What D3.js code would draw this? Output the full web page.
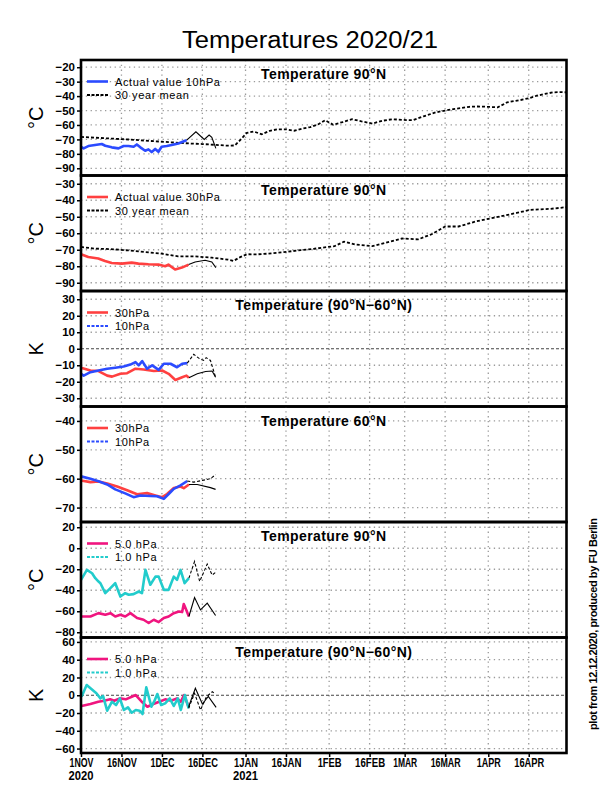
<!DOCTYPE html>
<html>
<head>
<meta charset="utf-8">
<script src="https://cdn.jsdelivr.net/npm/d3@7"></script>
<style>
  body { margin: 0; background: #fff; }
  text { font-family: "Liberation Sans", Arial, sans-serif; }
</style>
</head>
<body>
<svg id="chart" width="612" height="792"></svg>
<script>
// x values are days after 1 Nov 2020
var xTickDates = ["2020-11-01", "2020-11-16", "2020-12-01", "2020-12-16", "2021-01-01", "2021-01-16",
  "2021-02-01", "2021-02-16", "2021-03-01", "2021-03-16", "2021-04-01", "2021-04-16"];
var xTickLabels = ["1NOV", "16NOV", "1DEC", "16DEC", "1JAN", "16JAN", "1FEB", "16FEB", "1MAR", "16MAR", "1APR", "16APR"];

// panel 1: 90N 10hPa
var t10Actual = [[0,-75.1],[1,-76.2],[2.7,-74.6],[5.2,-73.9],[7.7,-73.2],[9,-74.4],[11.4,-75.5],[13.9,-76.2],
  [15.8,-74.6],[17.6,-74.6],[19.5,-75.1],[20.7,-73.5],[22,-75.5],[23.8,-77.9],[25,-76.9],[26.2,-78.8],[27.5,-76.6],
  [28.7,-78.6],[29.9,-75.1],[31.8,-74.6],[33.6,-73.9],[36.1,-72.8],[38.6,-70.9],[39.2,-70.5]];
var t10Forecast = [[39.2,-70.5],[42.6,-64.7],[45.7,-70],[47.5,-67],[48.5,-68.5],[50,-76.2]];
var t10Mean = [[0,-68.3],[5,-68.8],[10,-69.3],[15,-69.8],[20,-70.3],[25,-71],[30,-71.6],[35,-72.2],[40,-72.8],
  [45,-73.2],[50,-73.8],[54,-74.3],[57,-74.2],[59,-70.5],[61.5,-65.5],[64,-64.5],[67,-66.5],[70,-64],[73,-63],
  [76,-63],[79,-64],[82,-62.5],[85,-61.5],[88,-59.5],[90.5,-56.7],[93.5,-59.8],[97,-58],[100.5,-56],[104,-57.5],
  [108,-59],[112,-57],[115.5,-56],[119,-56.5],[123,-56.7],[127,-54],[131.5,-51.3],[135,-50],[138,-49],[141,-48.3],
  [144,-47.4],[147,-47.2],[150.5,-47.4],[154.5,-47.8],[158,-44.3],[163,-42.7],[166,-41.5],[169,-39.7],[172,-38.5],
  [175,-37.4],[178,-37.2],[180,-37.4]];

// panel 2: 90N 30hPa
var t30Actual = [[0,-72.7],[2.7,-74.4],[6.4,-75.3],[8.9,-76.8],[11.4,-78],[15.1,-78.4],[18.8,-77.8],[21.3,-78.4],
  [25,-78.8],[28.7,-79],[31.2,-80],[32.4,-79],[34.9,-82],[37.4,-80.8],[39.9,-79]];
var t30Forecast = [[39.9,-79],[42.3,-77.4],[46,-76.4],[48.5,-77.4],[50,-80.8]];
var t30Mean = [[0,-68.3],[5,-69.3],[11,-69.6],[17.5,-70.4],[24,-71.4],[30,-72.4],[36,-74],[42,-74],[48.5,-74.8],
  [54.5,-76],[56.5,-76.8],[59,-74.5],[61.5,-72.7],[65,-72.8],[69,-72.4],[75,-71.5],[81.5,-70.2],[86.5,-69.4],
  [94,-67.8],[97.5,-65.1],[101.5,-66.8],[108,-67.8],[113,-65.7],[119,-63.2],[125,-63.7],[130,-60.6],[135,-55.9],
  [140,-55.9],[146.5,-52.8],[154,-50.3],[161.5,-47.7],[166.5,-45.8],[174,-45.2],[180,-44.2]];

// panel 3: 90N-60N difference
var dT30 = [[0,-11.5],[3.5,-13.2],[6.5,-13.5],[9.7,-16.3],[11.5,-16.9],[14.6,-15.2],[17.1,-14.8],[20.2,-12.1],
  [23.2,-12.6],[27,-13.5],[30.1,-13.2],[32.5,-15.2],[35,-18.9],[37.5,-17.3],[39.1,-16.3],[40,-17.6]];
var dT30Forecast = [[40,-17.6],[43.1,-15.2],[46.2,-13.8],[48.6,-13.5],[49.9,-17.3]];
var dT10 = [[0,-15.2],[1,-16.3],[3.5,-14.2],[6.5,-13.2],[9.7,-12.1],[12.7,-11.5],[15.8,-10.8],[18.3,-9.6],
  [20.2,-8.1],[21.4,-10.1],[22.7,-7.5],[24.5,-12.1],[26.4,-10.1],[28.8,-12.8],[30.7,-9.1],[33.2,-9.1],[35.6,-11.2],
  [37.5,-9.1],[39.4,-8.7]];
var dT10Forecast = [[39.4,-8.7],[41.8,-3.4],[44,-6.1],[45.5,-7],[46.4,-5.4],[48,-7.1],[49.9,-17.3]];

// panel 4: 60N
var t60_30 = [[0,-60.6],[3.5,-61.2],[6.5,-61],[9.7,-61.7],[13.4,-62.7],[17.1,-64],[20.8,-65.4],[24.5,-65],
  [27.6,-65.8],[30.1,-66.4],[31.9,-65.3],[34.4,-63.2],[36.9,-62.7],[38.1,-63.3],[40,-62]];
var t60_30Forecast = [[40,-62],[43.1,-62],[48,-63.1],[49.9,-63.7]];
var t60_10 = [[0,-59.2],[3.5,-60],[6.5,-60.9],[9.7,-62],[12.7,-63.7],[16.4,-65.1],[19.5,-66.4],[22,-65.8],
  [25.7,-66],[28.2,-66.1],[30.7,-67],[32.5,-65.3],[34.4,-63.5],[36.9,-62.3],[39.4,-60.8]];
var t60_10Forecast = [[39.4,-60.8],[41.8,-61.2],[45.5,-60.5],[48,-60],[49.9,-58.6]];

// panel 5: 90N upper levels
var t5Actual = [[0,-65],[3.5,-65],[6.5,-61.8],[9,-63.3],[10.9,-61.8],[12.7,-65],[14.6,-63.3],[16.4,-65],
  [18.3,-61.8],[20.8,-66.5],[23.2,-68.1],[25.1,-71.2],[27,-68.1],[28.8,-70.3],[30.7,-66.5],[32.5,-65],[34.4,-61.8],
  [36.3,-60.2],[37.5,-60.8],[38.1,-53.2],[39,-58.6],[40,-65]];
var t5Forecast = [[40,-65],[42.1,-46.9],[44.3,-58.7],[46.8,-52.3],[49.9,-64]];
var t1Actual = [[0,-30.1],[2.2,-20.6],[4.1,-23.8],[5.3,-28.5],[6.5,-31.7],[7.2,-33.3],[9,-42.8],[10.9,-38],
  [12.7,-33.3],[14.6,-46],[16.4,-42.8],[17.7,-44.3],[19.5,-43.7],[21.4,-41.2],[22.6,-42.8],[23.9,-20.6],[25.7,-34.8],
  [27.6,-27],[28.8,-27],[30.7,-39.6],[32.5,-39.6],[34.4,-27],[35.6,-30.1],[36.9,-20.6],[38.4,-33.3],[40,-28.5]];
var t1Forecast = [[40,-28.5],[42.1,-12.6],[44,-31.6],[46.8,-15.1],[48.6,-25.5],[49.9,-23]];

// panel 6: 90N-60N upper levels
var dT5 = [[0.2,-12.1],[3.5,-9.9],[6.4,-7.3],[8.6,-6.2],[10.8,-4.6],[12.3,-6.2],[14.4,-3.5],[16.6,-4.6],
  [18.8,-1.7],[20.3,0.2],[22.5,-7.3],[24.6,-12.9],[26.8,-9.9],[29,-7.3],[31.2,-4.6],[33.4,-6.2],[35.6,-3.5],
  [37,-7.3],[38.2,0.2],[39.9,-12.9]];
var dT5Forecast = [[39.9,-12.9],[42.4,7.8],[45,-9.9],[47.2,-1.4],[50.1,-13.6]];
var dT1 = [[0.2,-1.7],[2.1,11.5],[5.7,2.2],[7.2,-3.5],[8.2,-0.9],[9.7,-17.4],[11.5,-7.3],[13,-11],[14.4,-3.5],
  [15.9,-16.6],[17.4,-13.6],[18.8,-19.7],[20.3,-16.6],[21.7,-17.4],[22.8,-21.1],[24.2,8.9],[26.1,-12.9],[27.1,-7.3],
  [28.3,1.4],[29.7,-11],[31.2,-9.1],[32.9,-3.5],[34.4,-12.1],[35.9,-3.5],[37,-16.6],[38.5,0.2],[39.9,-14.7]];
var dT1Forecast = [[39.9,-14.7],[42.1,2.2],[44.3,-16.6],[46.5,-1.7],[48.7,4],[49.8,1.4]];

var panelTitles = ["Temperature 90°N", "Temperature 90°N", "Temperature (90°N−60°N)", "Temperature 60°N",
  "Temperature 90°N", "Temperature (90°N−60°N)"];
var panelUnits = ["°C", "°C", "K", "°C", "°C", "K"];
var yDomains = [[-95,-15], [-95,-25], [-35,35], [-75,-35], [-85,25], [-65,65]];
var yTicks = [d3.range(-90,-19,10), d3.range(-90,-29,10), d3.range(-30,31,10), d3.range(-70,-39,10),
  d3.range(-80,21,20), d3.range(-60,61,20)];

var blue = "#2b4bff", red = "#ff4040", magenta = "#f0157f", cyan = "#22cccc";

var panels = [
  { legend: [["Actual value 10hPa", blue, false], ["30 year mean", "#000", true]],
    series: [[t10Mean, "dash"], [t10Actual, blue], [t10Forecast, "fc"]] },
  { legend: [["Actual value 30hPa", red, false], ["30 year mean", "#000", true]],
    series: [[t30Mean, "dash"], [t30Actual, red], [t30Forecast, "fc"]] },
  { legend: [["30hPa", red, false], ["10hPa", blue, true]], zero: true,
    series: [[dT30, red], [dT10, blue], [dT30Forecast, "fc"], [dT10Forecast, "fcdash"]] },
  { legend: [["30hPa", red, false], ["10hPa", blue, true]],
    series: [[t60_30, red], [t60_10, blue], [t60_30Forecast, "fc"], [t60_10Forecast, "fcdash"]] },
  { legend: [["5.0 hPa", magenta, false], ["1.0 hPa", cyan, true]],
    series: [[t5Actual, magenta], [t1Actual, cyan], [t5Forecast, "fc"], [t1Forecast, "fcdash"]] },
  { legend: [["5.0 hPa", magenta, false], ["1.0 hPa", cyan, true]], zero: true,
    series: [[dT5, magenta], [dT1, cyan], [dT5Forecast, "fc"], [dT1Forecast, "fcdash"]] }
];

var left = 81, right = 566.5, top0 = 60, panelH = 115.5;
var start = Date.UTC(2020, 10, 1);
var day = d => new Date(start + d * 864e5);
var sans = "'Liberation Sans', Arial, sans-serif";

var svg = d3.select("#chart");
var x = d3.scaleUtc()
  .domain([new Date(start), new Date(Date.UTC(2021, 3, 30))])
  .range([left, right]);
var tickDates = xTickDates.map(s => new Date(s + "T00:00:00Z"));

svg.append("text")
  .attr("x", 310).attr("y", 48)
  .attr("text-anchor", "middle")
  .attr("font-size", 23)
  .attr("font-family", "'DejaVu Sans', sans-serif").attr("font-weight", 200)
  .attr("textLength", 256).attr("lengthAdjust", "spacingAndGlyphs")
  .text("Temperatures 2020/21");

panels.forEach(function(p, i) {
  var top = top0 + i * panelH, bottom = top + panelH;
  var y = d3.scaleLinear().domain(yDomains[i]).range([bottom, top]);
  var g = svg.append("g");

  // dotted grid
  g.selectAll(".vgrid").data(tickDates.slice(1)).enter().append("line")
    .attr("x1", d => x(d)).attr("x2", d => x(d))
    .attr("y1", top).attr("y2", bottom)
    .attr("stroke", "#9a9a9a").attr("stroke-width", 1.3).attr("stroke-dasharray", "1.3,3.5");
  g.selectAll(".hgrid").data(yTicks[i]).enter().append("line")
    .attr("x1", left).attr("x2", right)
    .attr("y1", d => y(d)).attr("y2", d => y(d))
    .attr("stroke", d => (p.zero && d === 0) ? "#444" : "#9a9a9a")
    .attr("stroke-width", d => (p.zero && d === 0) ? 1 : 1.3)
    .attr("stroke-dasharray", d => (p.zero && d === 0) ? "3,2" : "1.3,3.5");

  // series
  var line = d3.line().x(d => x(day(d[0]))).y(d => y(d[1]));
  p.series.forEach(function(s) {
    var path = g.append("path").datum(s[0]).attr("d", line).attr("fill", "none");
    if (s[1] === "dash") path.attr("stroke", "#000").attr("stroke-width", 1.8).attr("stroke-dasharray", "3,2");
    else if (s[1] === "fc") path.attr("stroke", "#000").attr("stroke-width", 1.1);
    else if (s[1] === "fcdash") path.attr("stroke", "#000").attr("stroke-width", 1.1).attr("stroke-dasharray", "3,2");
    else path.attr("stroke", s[1]).attr("stroke-width", 2.6).attr("stroke-linejoin", "round");
  });

  // legend
  p.legend.forEach(function(l, k) {
    var ly = top + 21.5 + k * 13.5;
    g.append("line").attr("x1", 87).attr("x2", 108).attr("y1", ly).attr("y2", ly)
      .attr("stroke", l[1]).attr("stroke-width", l[2] ? 2 : 2.6)
      .attr("stroke-dasharray", l[2] ? "3,1.5" : null);
    g.append("text").attr("x", 115).attr("y", ly + 4)
      .attr("font-size", 11).attr("letter-spacing", 0.6)
      .text(l[0]);
  });

  g.append("text")
    .attr("x", (left + right) / 2).attr("y", top + 19)
    .attr("text-anchor", "middle")
    .attr("font-size", 14).attr("font-weight", "bold").attr("letter-spacing", 0.4)
    .text(panelTitles[i]);

  // y axis
  var axis = g.append("g").attr("transform", `translate(${left},0)`)
    .call(d3.axisLeft(y).tickValues(yTicks[i]).tickSize(4).tickPadding(2));
  axis.select(".domain").remove();
  axis.selectAll("line").attr("stroke-width", 1.5);
  axis.selectAll("text").attr("font-size", 11.5).attr("font-weight", "bold")
    .attr("font-family", sans);

  g.append("text")
    .attr("transform", `translate(43,${(top + bottom) / 2}) rotate(-90)`)
    .attr("text-anchor", "middle")
    .attr("font-size", 20)
    .text(panelUnits[i]);

  g.append("rect")
    .attr("x", left).attr("y", top).attr("width", right - left).attr("height", panelH)
    .attr("fill", "none").attr("stroke", "#000").attr("stroke-width", 2.6);
});

// x axis under the last panel
var bottomY = top0 + 6 * panelH;
var xAxis = svg.append("g").attr("transform", `translate(0,${bottomY})`)
  .call(d3.axisBottom(x).tickValues(tickDates).tickSize(4).tickPadding(1)
    .tickFormat((d, i) => xTickLabels[i]));
xAxis.select(".domain").remove();
xAxis.selectAll("line").attr("stroke-width", 1.5);
xAxis.selectAll("text").attr("font-size", 12.5).attr("font-weight", "bold")
  .attr("font-family", sans)
  .attr("textLength", (d, i) => xTickLabels[i].length * 6)
  .attr("lengthAdjust", "spacingAndGlyphs");

[["2020", tickDates[0]], ["2021", tickDates[4]]].forEach(function(yr) {
  svg.append("text").attr("x", x(yr[1])).attr("y", 780)
    .attr("text-anchor", "middle").attr("font-size", 12.5).attr("font-weight", "bold")
    .attr("font-family", sans)
    .attr("textLength", 25).attr("lengthAdjust", "spacingAndGlyphs")
    .text(yr[0]);
});

svg.append("text")
  .attr("transform", "translate(597,624) rotate(-90)")
  .attr("text-anchor", "middle")
  .attr("font-size", 11).attr("font-weight", "bold")
  .attr("textLength", 212).attr("lengthAdjust", "spacing")
  .text("plot from 12.12.2020, produced by FU Berlin");
</script>
</body>
</html>
